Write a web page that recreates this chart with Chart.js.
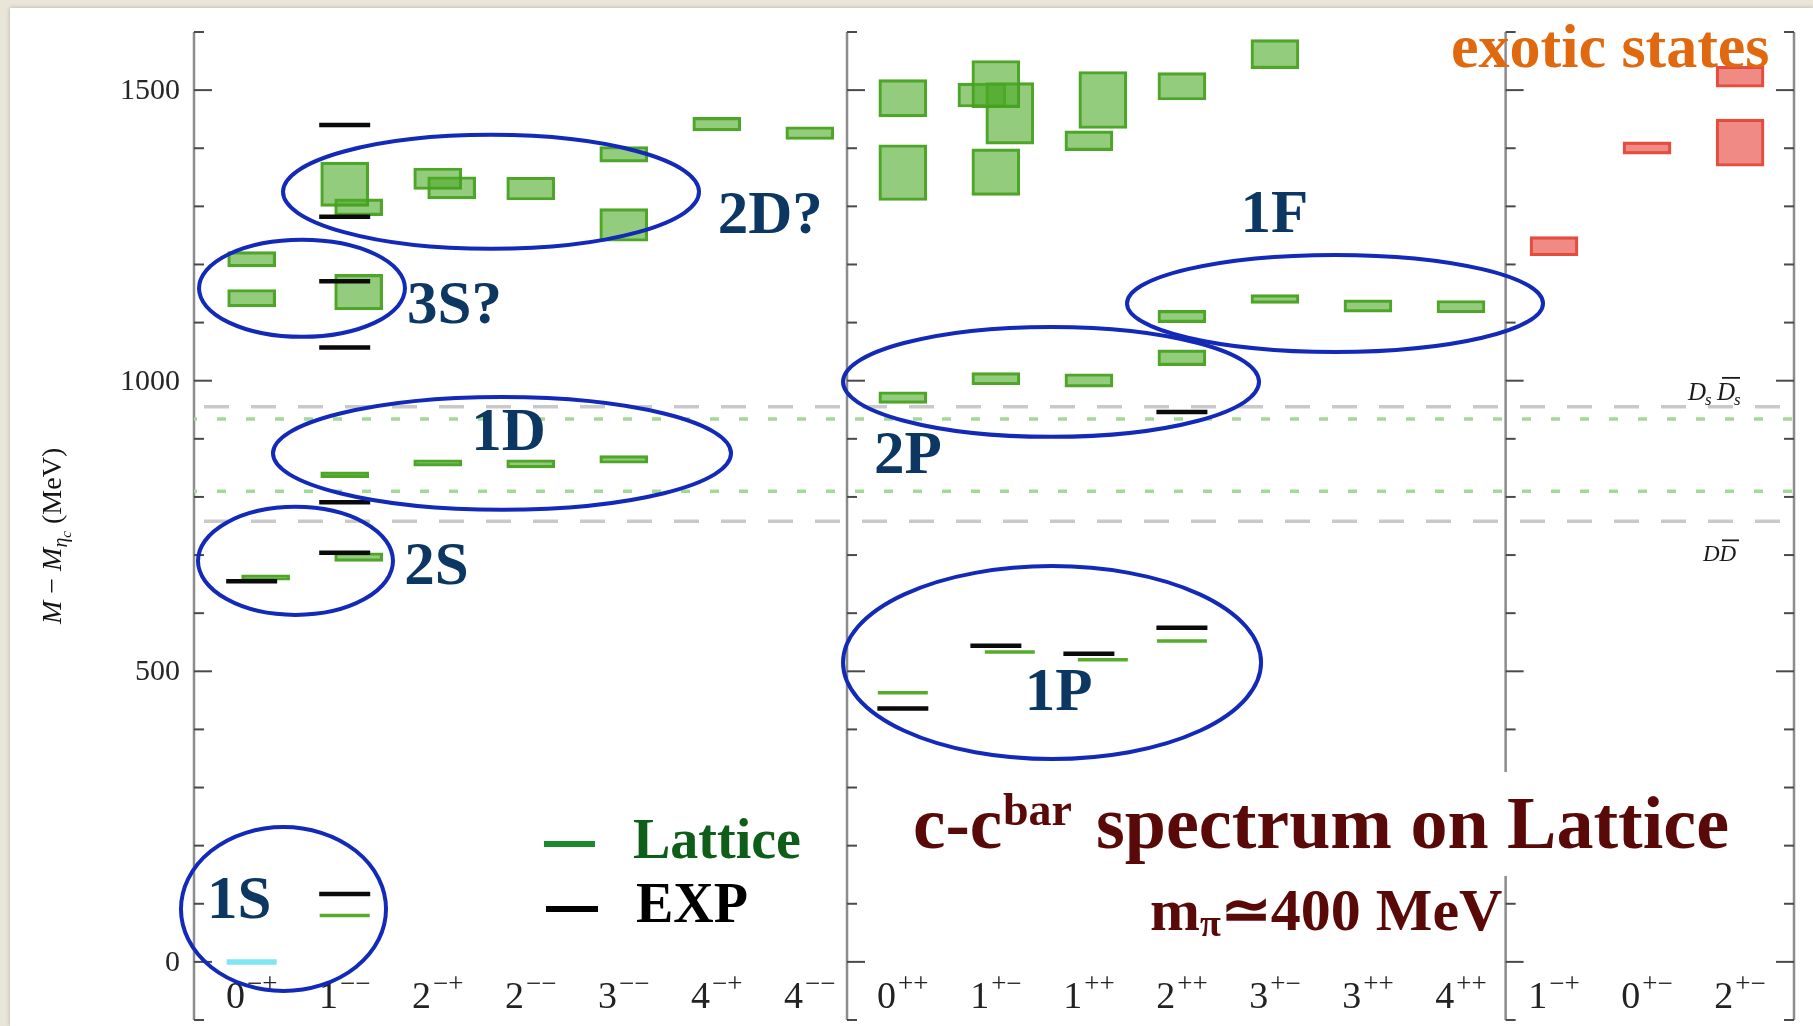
<!DOCTYPE html>
<html>
<head>
<meta charset="utf-8">
<title>c-cbar spectrum on Lattice</title>
<script src="https://cdn.jsdelivr.net/npm/chart.js@4.4.1/dist/chart.umd.min.js"></script>
<style>
  html, body { margin: 0; padding: 0; width: 1813px; height: 1026px; overflow: hidden; background: #e9e5d9; }
  #sheet { position: absolute; left: 10px; top: 8px; width: 1803px; height: 1018px; background: #ffffff;
           box-shadow: 0 0 4px rgba(120, 110, 90, 0.45); }
  #plot { position: absolute; left: 0; top: 0; }
</style>
</head>
<body>
<div id="sheet"></div>
<canvas id="plot" width="1813" height="1026"></canvas>
<script>
// ---- channels (J^PC), one list per panel ----
const normalNegParity = ['0-+', '1--', '2-+', '2--', '3--', '4-+', '4--'];
const normalPosParity = ['0++', '1+-', '1++', '2++', '3+-', '3++', '4++'];
const exoticChannels  = ['1-+', '0+-', '2+-'];

// ---- lattice levels with uncertainty: [J^PC, low, high] in MeV above eta_c ----
const latticeBoxes = [
  ['0-+', 1196, 1222], ['0-+', 1127, 1157],
  ['1--', 1300, 1376], ['1--', 833, 843],
  ['2-+', 1329, 1366], ['2-+', 853, 864],
  ['2--', 1311, 1350], ['2--', 850, 864],
  ['3--', 1376, 1403], ['3--', 1240, 1296], ['3--', 858, 871],
  ['4-+', 1430, 1453],
  ['4--', 1415, 1437],
  ['0++', 1454, 1518], ['0++', 1310, 1406], ['0++', 961, 981],
  ['1+-', 1470, 1551], ['1+-', 1319, 1399], ['1+-', 993, 1014],
  ['1++', 1396, 1430], ['1++', 989, 1012],
  ['2++', 1483, 1530], ['2++', 1100, 1121], ['2++', 1026, 1053],
  ['3+-', 1537, 1587], ['3+-', 1133, 1148],
  ['3++', 1118, 1139],
  ['4++', 1117, 1138]
];
// second operator set, drawn slightly to the right of the channel
const latticeBoxesRight = [
  ['0-+', 657, 666],
  ['1--', 1284, 1313], ['1--', 1122, 1183], ['1--', 689, 704],
  ['2-+', 1313, 1351],
  ['1+-', 1407, 1513],
  ['1++', 1434, 1532]
];
// third operator set, drawn slightly to the left
const latticeBoxesLeft = [
  ['1+-', 1471, 1512]
];
// exotic J^PC levels
const exoticBoxes = [
  ['1-+', 1215, 1248],
  ['0+-', 1390, 1411],
  ['2+-', 1505, 1541], ['2+-', 1369, 1450]
];
// precise lattice levels: [J^PC, MeV]
const latticeLevels      = [['1--', 80], ['0++', 463], ['2++', 552]];
const latticeLevelsRight = [['1+-', 533], ['1++', 520]];
// experimental levels: [J^PC, MeV]
const expLevels = [
  ['0-+', 655],
  ['1--', 117], ['1--', 704], ['1--', 791], ['1--', 1057], ['1--', 1171], ['1--', 1282], ['1--', 1440],
  ['0++', 436], ['1+-', 544], ['1++', 530], ['2++', 575], ['2++', 946]
];
const etacReference = [['0-+', 0]];
// thresholds in MeV
const openCharmThresholds = [758, 955];   // D Dbar, Ds Dsbar
const latticeThresholds   = [810, 934];
// y-axis labels
const yTickLabels = [0, 500, 1000, 1500];

// ---- layout helpers ----
const channels = [...normalNegParity, ...normalPosParity, ...exoticChannels];
const slot = j => channels.indexOf(j);
const X_MIN = -0.62, X_MAX = channels.length - 1 + 0.58;
const panelEdges = [X_MIN, normalNegParity.length - 0.6, normalNegParity.length + normalPosParity.length - 0.52, X_MAX];
const SHIFT = 0.15;
const toBars = (list, dx) => list.map(([j, lo, hi]) => ({ x: slot(j) + dx, y: [lo, hi] }));
const toLevels = (list, dx) => list.map(([j, v]) => ({ x: slot(j) + dx, y: v }));
const acrossAll = v => [{ x: X_MIN, y: v }, { x: X_MAX, y: v }];

const SERIF = '"Liberation Serif", "Times New Roman", serif';
const GREEN_FILL = 'rgba(76,170,40,0.6)';
const GREEN_EDGE = 'rgba(70,160,30,0.95)';
const RED_FILL = 'rgba(230,60,50,0.6)';
const RED_EDGE = 'rgba(226,68,52,0.95)';

const boxSet = (data, fill, edge) => ({
  type: 'bar', data, backgroundColor: fill, borderColor: edge, borderWidth: 2.5,
  borderSkipped: false, barThickness: 48, grouped: false, order: 5
});
const levelSet = (data, color, width, half, order) => ({
  type: 'line', data, showLine: false, pointStyle: 'line', pointRadius: half, pointHoverRadius: half,
  pointBorderColor: color, pointBackgroundColor: color, pointBorderWidth: width, order
});
const thresholdSet = (v, color, width, dash, offset) => ({
  type: 'line', data: acrossAll(v), borderColor: color, borderWidth: width, borderDash: dash,
  borderDashOffset: offset, pointRadius: 0, fill: false, order: 10
});

const datasets = [
  ...openCharmThresholds.map(v => thresholdSet(v, '#c9c9c9', 3.5, [25, 22], 37)),
  ...latticeThresholds.map(v => thresholdSet(v, '#a3d996', 3.5, [9, 20], 6)),
  boxSet(toBars(latticeBoxes, 0), GREEN_FILL, GREEN_EDGE),
  boxSet(toBars(latticeBoxesRight, SHIFT), GREEN_FILL, GREEN_EDGE),
  boxSet(toBars(latticeBoxesLeft, -SHIFT), GREEN_FILL, GREEN_EDGE),
  boxSet(toBars(exoticBoxes, 0), RED_FILL, RED_EDGE),
  levelSet(toLevels(latticeLevels, 0), '#58aa2c', 3.5, 25, 3),
  levelSet(toLevels(latticeLevelsRight, SHIFT), '#58aa2c', 3.5, 25, 3),
  levelSet(toLevels(etacReference, 0), '#7fe6f3', 5.5, 25, 3),
  levelSet(toLevels(expLevels, 0), '#0a0a0a', 4.5, 25.5, 1)
];

// ---- annotations in data units ----
const stateRings = [   // [cx, cy(MeV), rx(slots), ry(MeV)]
  [2.573, 1325, 2.236, 98],
  [0.541, 1159, 1.107, 83.5],
  [2.691, 875, 2.462, 97],
  [0.471, 690, 1.048, 93],
  [0.342, 91, 1.102, 141],
  [8.593, 998, 2.236, 94.6],
  [11.646, 1133, 2.236, 83.5],
  [8.604, 515, 2.247, 166]
];
const stateNames = [   // [text, left(slot), baseline(MeV)]
  ['1S', -0.48, 75], ['2S', 1.64, 650], ['3S?', 1.67, 1099], ['1D', 2.36, 881],
  ['2D?', 5.01, 1254], ['1P', 8.31, 433], ['2P', 6.69, 841], ['1F', 10.63, 1256]
];

function drawSeq(ctx, parts, x, y) {
  let cx = x;
  for (const [t, font, dy, color] of parts) {
    ctx.font = font;
    if (color) ctx.fillStyle = color;
    ctx.fillText(t, cx, y + (dy || 0));
    cx += ctx.measureText(t).width;
  }
  return cx;
}

const decor = {
  id: 'decor',
  beforeDatasetsDraw(chart) {
    const { ctx, chartArea: a, scales: { x, y } } = chart;
    ctx.save();
    let tickVals = (y.ticks || []).map(t => t.value);
    if (!tickVals.length) { for (let v = y.min; v <= y.max; v += 100) tickVals.push(v); }
    panelEdges.forEach((e, k) => {
      const px = x.getPixelForValue(e);
      ctx.strokeStyle = '#8c8c8c'; ctx.lineWidth = 2.5;
      ctx.beginPath(); ctx.moveTo(px, a.top); ctx.lineTo(px, a.bottom); ctx.stroke();
      const dir = k === panelEdges.length - 1 ? -1 : 1;
      ctx.strokeStyle = '#4a4a4a'; ctx.lineWidth = 2;
      tickVals.forEach(v => {
        const py = y.getPixelForValue(v);
        const len = v % 500 === 0 ? 18 : 10;
        ctx.beginPath(); ctx.moveTo(px, py); ctx.lineTo(px + dir * len, py); ctx.stroke();
      });
    });
    // y tick labels
    ctx.fillStyle = '#262626'; ctx.font = '30px ' + SERIF;
    ctx.textAlign = 'right'; ctx.textBaseline = 'middle';
    yTickLabels.forEach(v => ctx.fillText(String(v), 180, y.getPixelForValue(v) + 1));
    ctx.restore();
  },
  afterDatasetsDraw(chart) {
    const { ctx, scales: { x, y } } = chart;
    ctx.save();
    ctx.textBaseline = 'alphabetic'; ctx.textAlign = 'left';

    // white band behind the headline
    ctx.fillStyle = '#ffffff';
    ctx.fillRect(900, 772, 860, 104);

    // J^PC labels along the bottom
    ctx.fillStyle = '#222';
    channels.forEach((j, i) => {
      const J = j[0], pc = j.slice(1).replace(/-/g, '\u2212');
      ctx.font = '38px ' + SERIF; const wJ = ctx.measureText(J).width;
      ctx.font = '27px ' + SERIF; const wP = ctx.measureText(pc).width;
      const left = x.getPixelForValue(i) - (wJ + 2 + wP) / 2;
      ctx.font = '38px ' + SERIF; ctx.fillText(J, left, 1008);
      ctx.font = '27px ' + SERIF; ctx.fillText(pc, left + wJ + 2, 992);
    });

    // threshold labels
    ctx.fillStyle = '#1a1a1a';
    const dsY = y.getPixelForValue(openCharmThresholds[1]) - 7;
    ctx.font = 'italic 25px ' + SERIF; ctx.fillText('D', 1688, dsY);
    ctx.font = 'italic 17px ' + SERIF; ctx.fillText('s', 1705, dsY + 5);
    ctx.font = 'italic 25px ' + SERIF; ctx.fillText('D', 1717, dsY);
    ctx.font = 'italic 17px ' + SERIF; ctx.fillText('s', 1734, dsY + 5);
    ctx.strokeStyle = '#1a1a1a'; ctx.lineWidth = 1.8;
    ctx.beginPath(); ctx.moveTo(1722, dsY - 22); ctx.lineTo(1740, dsY - 22); ctx.stroke();
    const ddY = y.getPixelForValue(openCharmThresholds[0]) + 40;
    ctx.font = 'italic 23px ' + SERIF; ctx.fillText('DD', 1703, ddY);
    ctx.beginPath(); ctx.moveTo(1722, ddY - 21); ctx.lineTo(1739, ddY - 21); ctx.stroke();

    // rings around multiplets
    ctx.strokeStyle = '#1329b8'; ctx.lineWidth = 4;
    stateRings.forEach(([cx, cy, rx, ry]) => {
      const px = x.getPixelForValue(cx), py = y.getPixelForValue(cy);
      const prx = x.getPixelForValue(cx + rx) - px;
      const pry = y.getPixelForValue(cy) - y.getPixelForValue(cy + ry);
      ctx.beginPath(); ctx.ellipse(px, py, prx, pry, 0, 0, Math.PI * 2); ctx.stroke();
    });

    // multiplet names
    ctx.fillStyle = '#0c3762'; ctx.font = 'bold 61px ' + SERIF;
    stateNames.forEach(([t, sx, sv]) => ctx.fillText(t, x.getPixelForValue(sx), y.getPixelForValue(sv)));

    // y-axis title
    ctx.save();
    ctx.translate(61, 624); ctx.rotate(-Math.PI / 2);
    drawSeq(ctx, [
      ['M', 'italic 28px ' + SERIF, 0, '#141414'],
      [' \u2212 ', '28px ' + SERIF],
      ['M', 'italic 28px ' + SERIF],
      ['\u03b7', 'italic 20px ' + SERIF, 6],
      ['c', 'italic 15px ' + SERIF, 10],
      [' (MeV)', '28px ' + SERIF, 0]
    ], 0, 0);
    ctx.restore();

    // legend
    ctx.lineWidth = 6;
    ctx.strokeStyle = '#1c8a2c';
    ctx.beginPath(); ctx.moveTo(544, 844); ctx.lineTo(595, 844); ctx.stroke();
    ctx.strokeStyle = '#000';
    ctx.beginPath(); ctx.moveTo(546, 909); ctx.lineTo(598, 909); ctx.stroke();
    ctx.font = 'bold 56px ' + SERIF;
    ctx.fillStyle = '#0e5e1a'; ctx.fillText('Lattice', 633, 858);
    ctx.fillStyle = '#000'; ctx.fillText('EXP', 636, 922);

    // headline
    const maroon = '#5a0909';
    ctx.fillStyle = maroon;
    ctx.font = 'bold 73px ' + SERIF; ctx.fillText('c-c', 913, 848);
    ctx.font = 'bold 46px ' + SERIF; ctx.fillText('bar', 1003, 825);
    ctx.font = 'bold 74px ' + SERIF; ctx.fillText('spectrum on Lattice', 1096, 848);
    drawSeq(ctx, [
      ['m', 'bold 60px ' + SERIF, 0, maroon],
      ['\u03c0', 'bold 38px ' + SERIF, 6],
      ['\u2243400 MeV', 'bold 60px ' + SERIF, 0]
    ], 1150, 930);

    ctx.fillStyle = '#e0680f'; ctx.font = 'bold 62px ' + SERIF;
    ctx.fillText('exotic states', 1451, 67);

    ctx.restore();
  }
};

Chart.defaults.font.family = SERIF;
new Chart(document.getElementById('plot').getContext('2d'), {
  type: 'bar',
  data: { datasets },
  options: {
    responsive: false,
    animation: false,
    events: [],
    devicePixelRatio: 1,
    layout: { autoPadding: false, padding: { left: 194, right: 19, top: 32, bottom: 6 } },
    plugins: { legend: { display: false }, tooltip: { enabled: false } },
    datasets: { bar: { grouped: false } },
    scales: {
      x: { type: 'linear', min: X_MIN, max: X_MAX, display: false, offset: false },
      y: { type: 'linear', min: -100, max: 1600, display: false, ticks: { stepSize: 100 } }
    }
  },
  plugins: [decor]
});
</script>
</body>
</html>
